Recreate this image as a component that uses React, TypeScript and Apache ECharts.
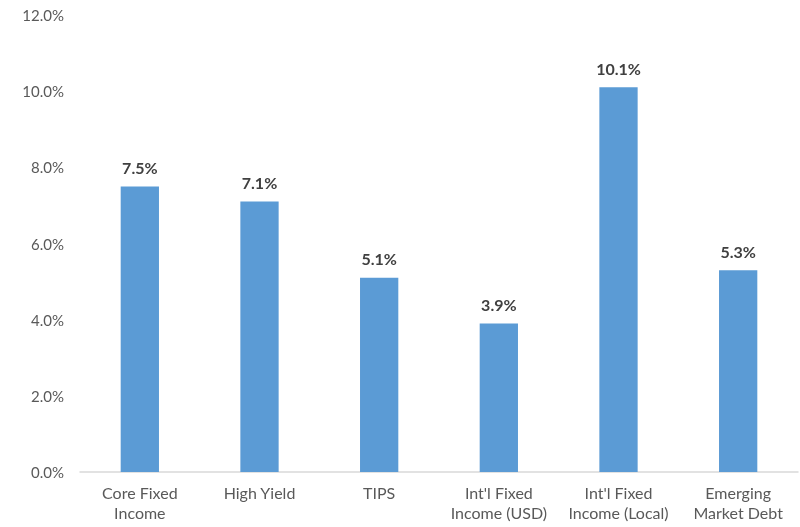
import React, { useEffect, useRef } from "react";
import * as echarts from "echarts";

const categories = [
  "Core Fixed\nIncome",
  "High Yield",
  "TIPS",
  "Int'l Fixed\nIncome (USD)",
  "Int'l Fixed\nIncome (Local)",
  "Emerging\nMarket Debt",
];
const values = [7.5, 7.1, 5.1, 3.9, 10.1, 5.3];
const yTicks = { min: 0, max: 12, interval: 2 };

export default function App() {
  const ref = useRef<HTMLDivElement>(null);
  useEffect(() => {
    if (!ref.current) return;
    const chart = echarts.init(ref.current, undefined, { renderer: "svg" });
    chart.setOption({
      animation: false,
      textStyle: { fontFamily: "Lato" },
      grid: { left: 80, right: 2, top: 15, bottom: 55, containLabel: false },
      xAxis: {
        type: "category",
        data: categories,
        axisLine: { lineStyle: { color: "#d9d9d9", width: 1.5 } },
        axisTick: { show: false },
        axisLabel: {
          color: "#595959",
          fontSize: 16,
          lineHeight: 20,
          margin: 10,
          interval: 0,
        },
      },
      yAxis: {
        type: "value",
        min: yTicks.min,
        max: yTicks.max,
        interval: yTicks.interval,
        splitLine: { show: false },
        axisLine: { show: false },
        axisTick: { show: false },
        axisLabel: {
          color: "#595959",
          fontSize: 15,
          margin: 16,
          formatter: (v: number) => v.toFixed(1) + "%",
        },
      },
      series: [
        {
          type: "bar",
          data: values,
          barWidth: "32%",
          itemStyle: { color: "#5B9BD5" },
          label: {
            show: true,
            position: "top",
            distance: 11,
            color: "#404040",
            fontSize: 16,
            fontWeight: "bold",
            formatter: (p: any) => Number(p.value).toFixed(1) + "%",
          },
        },
      ],
    });
    return () => chart.dispose();
  }, []);
  return (
    <div
      ref={ref}
      style={{ position: "fixed", left: 0, top: 0, width: 800, height: 527 }}
    />
  );
}
